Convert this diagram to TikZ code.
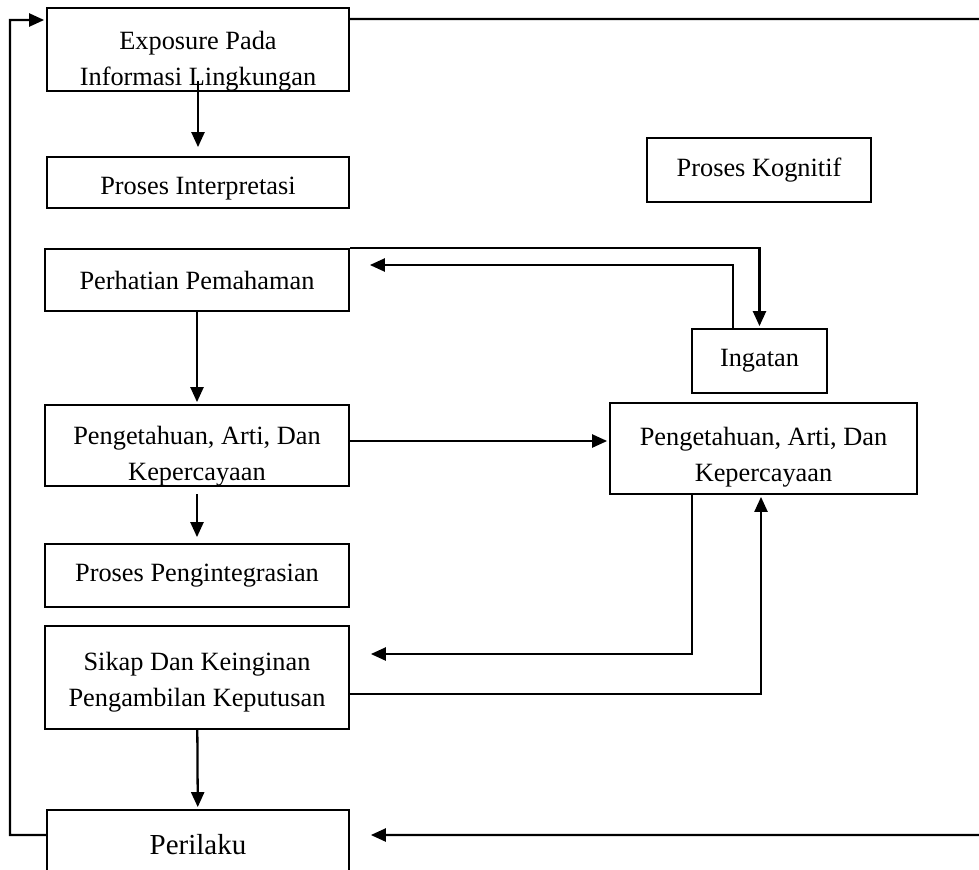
\documentclass[tikz,border=0pt]{standalone}
\usepackage{fontspec}
\setmainfont{Liberation Serif}
\usetikzlibrary{arrows.meta}
\begin{document}
\begin{tikzpicture} [x=0.02cm, y=-0.02cm, line width=1.3pt, shorten >=1pt,
        >={Triangle[length=0.3cm,width=0.26cm]},
        box/.style={draw,rectangle,inner sep=0pt,align=center,font=\fontsize{15}{20.5}\selectfont}]
    \useasboundingbox (0,0) rectangle (979,869);
    % kolom kiri
    \node[box,minimum width=6.04cm,minimum height=1.66cm] (ex) at (198,49.5) {\rule{0pt}{0.82cm}Exposure Pada\\Informasi Lingkungan};
    \node[box,minimum width=6.04cm,minimum height=1.02cm] (ip) at (198,182.5) {\rule{0pt}{0.6cm}Proses Interpretasi};
    \node[box,minimum width=6.08cm,minimum height=1.24cm] (ph) at (197,280) {Perhatian Pemahaman};
    \node[box,minimum width=6.08cm,minimum height=1.62cm] (pa) at (197,445.5) {\rule{0pt}{0.78cm}Pengetahuan, Arti, Dan\\Kepercayaan};
    \node[box,minimum width=6.08cm,minimum height=1.26cm] (pi) at (197,575.5) {Proses Pengintegrasian};
    \node[box,minimum width=6.08cm,minimum height=2.06cm] (sk) at (197,677.5) {\rule{0pt}{0.57cm}Sikap Dan Keinginan\\Pengambilan Keputusan};
    \node[box,minimum width=6.04cm,minimum height=1.4cm,font=\fontsize{16.5}{20}\selectfont] (pr) at (198,845) {Perilaku};
    % kolom kanan
    \node[box,minimum width=4.48cm,minimum height=1.28cm] (pk) at (759,170) {Proses Kognitif};
    \node[box,minimum width=2.7cm,minimum height=1.28cm] (ig) at (759.5,361) {Ingatan};
    \node[box,minimum width=6.14cm,minimum height=1.82cm] (pb) at (763.5,448.5) {\rule{0pt}{0.73cm}Pengetahuan, Arti, Dan\\Kepercayaan};
    % alur turun
    \draw [->] ([yshift=0.22cm]ex.south) -- ([yshift=0.14cm]ip.north);
    \draw [->] (ph) -- (pa);
    \draw [->, shorten <=0.14cm] (pa) -- ([yshift=0.08cm]pi.north);
    \draw [->] (sk) -- (pr);
    % ingatan
    \coordinate (pa-e) at ([yshift=0.09cm]pa.east);
    \draw [->] (pa-e) -- (pa-e -| pb.west);
    \draw [->] (ph.north east) -| (ig.north);
    \draw [->] ([xshift=-0.53cm]ig.north) |- ([xshift=0.36cm,yshift=0.3cm]ph.east);
    \draw [->] ([xshift=-1.43cm]pb.south) |- ([xshift=0.38cm,yshift=0.47cm]sk.east);
    \draw [->] ([yshift=-0.33cm]sk.east) -| ([xshift=-0.05cm]pb.south);
    % umpan balik
    \draw [->] ([yshift=0.2cm]pr.west) -| (10,20) -- ([yshift=0.59cm]ex.west);
    \draw [->] ([yshift=0.61cm]ex.east) -| (990,835) -- ([xshift=0.38cm,yshift=0.2cm]pr.east);
\end{tikzpicture}
\end{document}
